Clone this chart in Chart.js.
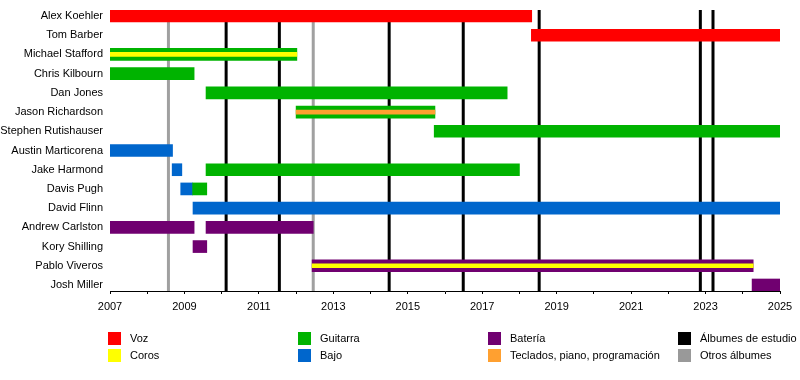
<!DOCTYPE html>
<html>
<head>
<meta charset="utf-8">
<script src="https://cdn.jsdelivr.net/npm/chart.js@4/dist/chart.umd.min.js"></script>
<style>
  html, body { margin: 0; padding: 0; background: #fff; }
  #wrap { position: relative; width: 800px; height: 380px; }
  canvas { position: absolute; left: 0; top: 0; }
  .lg-box { position: absolute; width: 13px; height: 13px; }
  .lg-txt { position: absolute; font: 11px "Liberation Sans", Arial, sans-serif; color: #000; line-height: 13px; white-space: nowrap; }
</style>
</head>
<body>
<div id="wrap"><canvas id="c" width="800" height="380"></canvas></div>
<script>
// ---- data ----
const members = ["Alex Koehler", "Tom Barber", "Michael Stafford", "Chris Kilbourn", "Dan Jones",
  "Jason Richardson", "Stephen Rutishauser", "Austin Marticorena", "Jake Harmond", "Davis Pugh",
  "David Flinn", "Andrew Carlston", "Kory Shilling", "Pablo Viveros", "Josh Miller"];

const vozBars = [["Alex Koehler", 2007, 2018.33], ["Tom Barber", 2018.32, 2025]];
const guitarraBars = [["Michael Stafford", 2007, 2012.02], ["Chris Kilbourn", 2007, 2009.26],
  ["Dan Jones", 2009.58, 2017.67], ["Jason Richardson", 2012.0, 2015.73],
  ["Stephen Rutishauser", 2015.71, 2025], ["Jake Harmond", 2009.58, 2018.0],
  ["Davis Pugh", 2009.22, 2009.6]];
const bajoBars = [["Austin Marticorena", 2007, 2008.68], ["Jake Harmond", 2008.67, 2008.93],
  ["Davis Pugh", 2008.9, 2009.22], ["David Flinn", 2009.23, 2025]];
const bateriaBars = [["Andrew Carlston", 2007, 2009.26], ["Andrew Carlston", 2009.58, 2012.46],
  ["Kory Shilling", 2009.23, 2009.6], ["Pablo Viveros", 2012.43, 2024.28], ["Josh Miller", 2024.25, 2025]];
const corosBars = [["Michael Stafford", 2007, 2012.02], ["Pablo Viveros", 2012.43, 2024.28]];
const tecladosBars = [["Jason Richardson", 2012.0, 2015.73]];

const studioAlbums = [2010.12, 2011.55, 2014.5, 2016.49, 2018.53, 2022.86, 2023.2];
const otherAlbums = [2008.57, 2012.46];

const yearMin = 2007, yearMax = 2025;
const tickYears = [2007, 2009, 2011, 2013, 2015, 2017, 2019, 2021, 2023, 2025];

const legendItems = [
  ["Voz", "#ff0000"], ["Coros", "#ffff00"],
  ["Guitarra", "#00b300"], ["Bajo", "#0066cc"],
  ["Batería", "#700070"], ["Teclados, piano, programación", "#ffa030"],
  ["Álbumes de estudio", "#000000"], ["Otros álbumes", "#999999"]
];

// ---- helpers ----
const toPts = arr => arr.map(([m, a, b]) => ({ x: [a, b], y: members.indexOf(m) }));

function ds(label, arr, color, thick, order) {
  return { label, data: toPts(arr), backgroundColor: color, borderWidth: 0,
    barThickness: thick, grouped: false, order };
}

const albumLines = {
  id: 'albumLines',
  beforeDatasetsDraw(chart) {
    const { ctx, chartArea, scales } = chart;
    ctx.save();
    ctx.lineWidth = 3;
    const draw = (vals, col) => {
      ctx.strokeStyle = col;
      vals.forEach(v => {
        const x = scales.x.getPixelForValue(v);
        ctx.beginPath();
        ctx.moveTo(x, chartArea.top);
        ctx.lineTo(x, chartArea.bottom);
        ctx.stroke();
      });
    };
    draw(otherAlbums, '#a0a0a0');
    draw(studioAlbums, '#000000');
    ctx.restore();
  }
};

Chart.defaults.font.family = '"Liberation Sans", Arial, sans-serif';
Chart.defaults.font.size = 11;
Chart.defaults.color = '#000';

new Chart(document.getElementById('c'), {
  type: 'bar',
  data: {
    datasets: [
      ds('Coros', corosBars, '#ffff00', 4, 1),
      ds('Teclados', tecladosBars, '#ffa030', 4, 1),
      ds('Voz', vozBars, '#ff0000', 12, 2),
      ds('Guitarra', guitarraBars, '#00b300', 12, 2),
      ds('Bajo', bajoBars, '#0066cc', 12, 2),
      ds('Batería', bateriaBars, '#700070', 12, 2)
    ]
  },
  options: {
    indexAxis: 'y',
    responsive: false,
    animation: false,
    layout: { padding: { top: 10, right: 20, left: 0, bottom: 0 } },
    plugins: { legend: { display: false }, tooltip: { enabled: false } },
    scales: {
      x: {
        type: 'linear', min: yearMin, max: yearMax, bounds: 'data', offset: false,
        afterBuildTicks: s => { s.ticks = []; for (let y = yearMin; y <= yearMax; y++) s.ticks.push({ value: y }); },
        ticks: { autoSkip: false, maxRotation: 0, padding: 6,
          callback: v => tickYears.includes(v) ? String(v) : '' },
        grid: { display: true, drawOnChartArea: false, drawTicks: true, tickLength: 3, color: '#000', lineWidth: 1, offset: false },
        border: { display: true, color: '#000', width: 1 },
        afterFit: s => { s.height = 89; }
      },
      y: {
        type: 'linear', reverse: true, bounds: 'data', offset: false,
        min: -0.3125, max: members.length - 1 + 0.3125,
        afterBuildTicks: s => { s.ticks = members.map((_, i) => ({ value: i })); },
        ticks: { autoSkip: false, padding: 7, callback: v => members[v] ?? '' },
        grid: { display: false, drawTicks: false, offset: false },
        border: { display: false },
        afterFit: s => { s.width = 110; s.paddingTop = 0; s.paddingBottom = 0; }
      }
    }
  },
  plugins: [albumLines]
});

// ---- legend (HTML) ----
const wrap = document.getElementById('wrap');
const colX = [108, 298, 488, 678];
const rowY = [332, 349];
legendItems.forEach(([txt, col], i) => {
  const c = Math.floor(i / 2), r = i % 2;
  const b = document.createElement('div');
  b.className = 'lg-box';
  b.style.left = colX[c] + 'px'; b.style.top = rowY[r] + 'px'; b.style.background = col;
  wrap.appendChild(b);
  const t = document.createElement('div');
  t.className = 'lg-txt';
  t.style.left = (colX[c] + 22) + 'px'; t.style.top = rowY[r] + 'px';
  t.textContent = txt;
  wrap.appendChild(t);
});
</script>
</body>
</html>
